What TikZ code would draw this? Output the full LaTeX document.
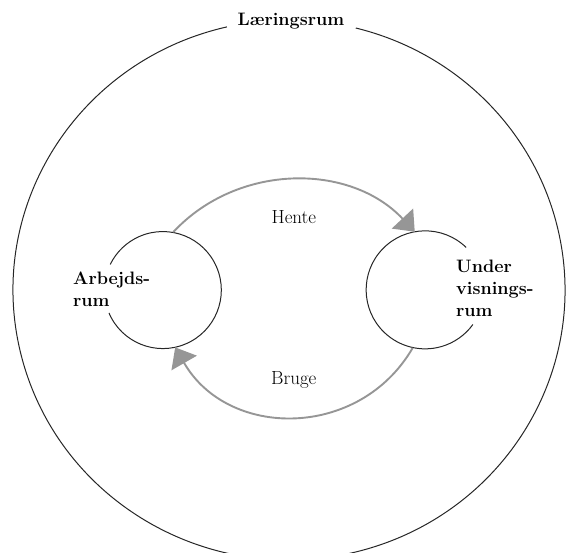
\documentclass[tikz,border=0pt]{standalone}
\usetikzlibrary{arrows.meta}
\definecolor{flowgray}{RGB}{150,150,150}
\tikzset{
  rumtext/.style={font=\fontsize{18}{22}\selectfont\bfseries, align=left, inner sep=0pt},
  flowtext/.style={font=\fontsize{19}{22}\selectfont},
  flow/.style={draw=flowgray, line width=1.9pt, -{Triangle[length=18pt,width=29pt]}},
  ring/.style={line width=1pt, draw=black!85},
}
\begin{document}
\begin{tikzpicture}[x=1pt,y=1pt]
\useasboundingbox (0,0) rectangle (568,553);
\coordinate (lr) at (289,263);
\node[rumtext] (title) at (291,531.5) {Læringsrum};
\draw[ring] ([shift={(103:276pt and 270pt)}]lr) arc[start angle=103, end angle=436, x radius=276pt, y radius=270pt];
\node[circle, minimum size=117pt, inner sep=0pt] (arb) at (163,263) {};
\node[circle, minimum size=118pt, inner sep=0pt] (und) at (425,263) {};
\draw[ring] (arb.-157) arc[start angle=-157, end angle=154, radius=58.5pt];
\draw[ring] (und.46) arc[start angle=46, end angle=324, radius=59pt];
\node[rumtext, anchor=west] (arbtxt) at (73,264) {Arbejds-\\rum};
\node[rumtext, anchor=west] (undtxt) at (456,265) {Under\\visnings-\\rum};
\draw[flow] (arb.80) to[bend left=47] node[flowtext, below=26pt] (hente) {Hente} (und.100);
\draw[flow] (und.-102) to[bend left=60, looseness=1.14] node[flowtext, above=24pt] (bruge) {Bruge} (arb.-78);
\end{tikzpicture}
\end{document}
